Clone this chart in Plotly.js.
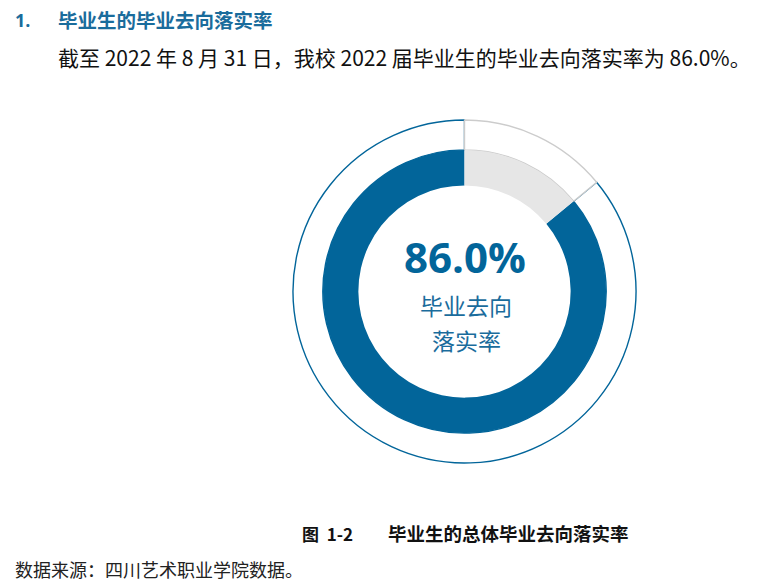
<!DOCTYPE html>
<html>
<head>
<meta charset="utf-8">
<script src="https://cdn.plot.ly/plotly-3.0.1.min.js"></script>
<style>html,body{margin:0;padding:0;background:#fff;}#chart{width:769px;height:586px;}</style>
</head>
<body>
<div id="chart"></div>
<script>
const categories = ["已落实", "未落实"];
const rateValues = [86.0, 14.0];
const centerLabel = "86.0%";
const centerCaption = ["毕业去向", "落实率"];
const headingNo = "1.";
const headingText = "毕业生的毕业去向落实率";
const introText = "截至 2022 年 8 月 31 日，我校 2022 届毕业生的毕业去向落实率为 86.0%。";
const figureNo = "图  1-2";
const figureTitle = "毕业生的总体毕业去向落实率";
const sourceText = "数据来源：四川艺术职业学院数据。";

const BLUE = "#02659a";
const GREY = "#e6e6e6";
const CJK = "'Noto Sans CJK SC', sans-serif";
const LAT = "'Open Sans', 'Noto Sans CJK SC', sans-serif";

const W = 769, H = 586;
function dom(cx, cy, r) {
  return {x: [(cx - r) / W, (cx + r) / W], y: [(H - cy - r) / H, (H - cy + r) / H]};
}
const total = rateValues.reduce((a, b) => a + b, 0);
const rot = 360 * rateValues[1] / total;

const outer = {
  type: "pie", labels: categories, values: rateValues, sort: false,
  direction: "clockwise", rotation: rot, hole: 0.826,
  domain: dom(464.5, 291.5, 171.5),
  marker: {colors: ["#ffffff", "#ffffff"], line: {color: [BLUE, "#cccccc"], width: 1.4}},
  textinfo: "none", hoverinfo: "none", showlegend: false
};
const inner = {
  type: "pie", labels: categories, values: rateValues, sort: false,
  direction: "clockwise", rotation: rot, hole: 0.75,
  domain: dom(464.5, 291.5, 141.5),
  marker: {colors: [BLUE, GREY], line: {color: [BLUE, GREY], width: 0}},
  textinfo: "none", hoverinfo: "none", showlegend: false
};

function ann(text, x, y, size, color, family, xanchor, bold) {
  return {text: bold ? "<b>" + text + "</b>" : text, x: x / W, y: 1 - y / H, xref: "paper", yref: "paper",
    xanchor: xanchor, yanchor: "middle", showarrow: false, font: {size: size, color: color, family: family}};
}

const layout = {
  width: W, height: H, margin: {l: 0, r: 0, t: 0, b: 0},
  paper_bgcolor: "#fff", plot_bgcolor: "#fff", showlegend: false,
  annotations: [
    ann(headingNo, 13, 20, 18, "#1a6c9c", LAT, "left", true),
    ann(headingText, 56, 20, 19.5, "#1a6c9c", CJK, "left", true),
    ann(introText, 56, 57, 21, "#111", CJK, "left", false),
    ann(centerLabel, 465, 256, 42, BLUE, LAT, "center", true),
    ann(centerCaption[0], 466, 305, 23, "#1a6c9c", CJK, "center", false),
    ann(centerCaption[1], 466, 340, 23, "#1a6c9c", CJK, "center", false),
    ann(figureNo, 300, 533, 17, "#111", CJK, "left", true),
    ann(figureTitle, 386, 533, 18.5, "#111", CJK, "left", true),
    ann(sourceText, 13, 569, 18, "#222", CJK, "left", false)
  ]
};

Plotly.newPlot("chart", [outer, inner], layout, {staticPlot: true, displayModeBar: false});
</script>
</body>
</html>
